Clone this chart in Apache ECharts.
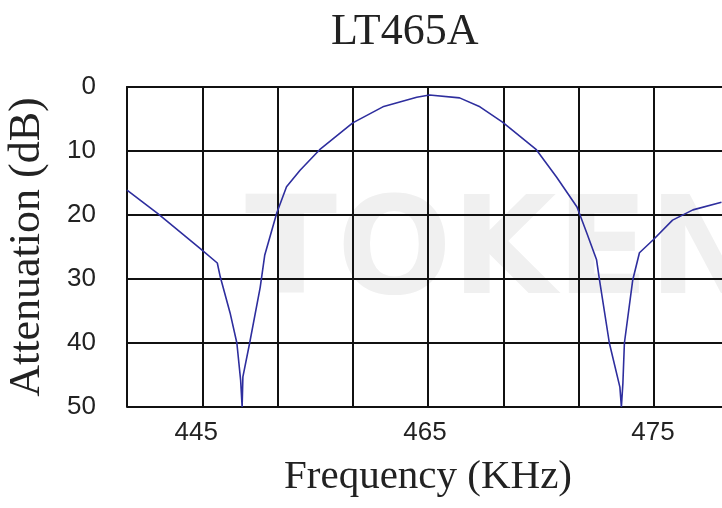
<!DOCTYPE html>
<html>
<head>
<meta charset="utf-8">
<script src="https://cdn.jsdelivr.net/npm/echarts@6/dist/echarts.min.js"></script>
<style>
html,body{margin:0;padding:0;background:#fff;}
#chart{width:722px;height:508px;}
</style>
</head>
<body>
<div id="chart"></div>
<script>
// x positions measured in grid cells from the left edge of the plot
var freqPos = [0, 0.41, 0.97, 1.20, 1.24, 1.37, 1.46, 1.51, 1.53, 1.54, 1.63, 1.77, 1.83, 1.99, 2.12, 2.30, 2.56, 3.00, 3.40, 3.85, 4.02, 4.42, 4.69, 4.99, 5.44, 5.71, 5.98, 6.02, 6.11, 6.24, 6.28, 6.41, 6.55, 6.57, 6.59, 6.61, 6.72, 6.81, 6.99, 7.25, 7.52, 7.90];
var attenuation = [16.1, 19.8, 25.2, 27.5, 29.7, 35.3, 40.0, 45.8, 50, 45.3, 40.0, 31.3, 26.3, 19.7, 15.6, 13.0, 9.8, 5.6, 3.1, 1.6, 1.25, 1.7, 3.1, 5.5, 9.8, 14.1, 18.75, 20.0, 22.8, 27.0, 30.2, 40.0, 46.9, 50, 46.3, 40.0, 30.2, 25.9, 23.9, 20.8, 19.2, 18.0];
var xTickPos = [0.92, 3.96, 6.99];
var xTickText = ['445', '465', '475'];
var yTicks = [0, 10, 20, 30, 40, 50];

var points = freqPos.map(function (x, i) { return [x, attenuation[i]]; });

var chart = echarts.init(document.getElementById('chart'));
chart.setOption({
  backgroundColor: '#ffffff',
  animation: false,
  title: {
    text: 'LT465A',
    left: 326,
    top: 5,
    textStyle: { fontFamily: 'Liberation Serif', fontSize: 44, fontWeight: 'normal', color: '#222' }
  },
  graphic: [{
    type: 'text', left: 245, top: 190, z: -10, silent: true,
    style: { text: 'TOKEN', font: 'bold 135px "DejaVu Sans"', fill: '#f0f0f0' }
  }],
  grid: { left: 127, top: 87, height: 320, right: -7, containLabel: false, outerBoundsMode: 'none' },
  xAxis: {
    type: 'value', min: 0, max: 8, interval: 1,
    name: 'Frequency (KHz)', nameLocation: 'middle', nameGap: 50,
    nameTextStyle: { fontFamily: 'Liberation Serif', fontSize: 41, color: '#222' },
    axisLine: { show: true, lineStyle: { color: '#111', width: 2 } },
    axisTick: { show: false },
    splitLine: { show: true, lineStyle: { color: '#111', width: 2 } },
    axisLabel: {
      customValues: xTickPos,
      margin: 13,
      fontFamily: 'Liberation Sans', fontSize: 26, color: '#222',
      formatter: function (v) {
        for (var i = 0; i < xTickPos.length; i++) {
          if (Math.abs(xTickPos[i] - v) < 1e-6) return xTickText[i];
        }
        return '';
      }
    }
  },
  yAxis: {
    type: 'value', inverse: true, min: 0, max: 50, interval: 10,
    name: 'Attenuation (dB)', nameLocation: 'middle', nameGap: 78, nameRotate: 90,
    nameTextStyle: { fontFamily: 'Liberation Serif', fontSize: 44, color: '#222' },
    axisLine: { show: true, lineStyle: { color: '#111', width: 2 } },
    axisTick: { show: false },
    splitLine: { show: true, lineStyle: { color: '#111', width: 2 } },
    axisLabel: { margin: 31, fontFamily: 'Liberation Sans', fontSize: 26, color: '#222',
      formatter: function (v) { return yTicks.indexOf(v) >= 0 ? String(v) : ''; } }
  },
  series: [{
    type: 'line',
    data: points,
    showSymbol: false,
    clip: true,
    lineStyle: { color: '#2e2e9e', width: 1.6 }
  }]
});
</script>
</body>
</html>
